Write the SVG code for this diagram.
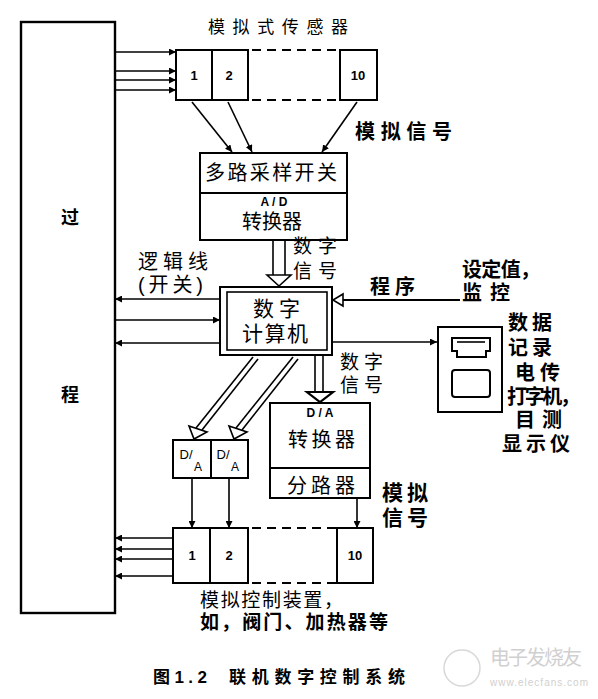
<svg xmlns="http://www.w3.org/2000/svg" width="598" height="699" viewBox="0 0 598 699">
<defs>
<style>
.box{fill:none;stroke:#000;stroke-width:2}
.ln{fill:none;stroke:#000;stroke-width:1.6}
.dash{fill:none;stroke:#000;stroke-width:2;stroke-dasharray:9,6}
.t{font-family:"Liberation Sans","Noto Sans CJK SC",sans-serif;fill:#000;dominant-baseline:central}
.b{font-weight:bold}
.n{font-family:"Liberation Sans",Arial,sans-serif;font-size:13px;font-weight:bold;fill:#000;text-anchor:middle;dominant-baseline:central}
.hol{fill:#fff;stroke:#000;stroke-width:1.6}
.wm{font-family:"Liberation Sans","Noto Sans CJK SC",sans-serif;fill:#d0d0d0}
</style>
<marker id="ah" viewBox="0 0 10 10" refX="10" refY="5" markerWidth="7" markerHeight="7" orient="auto" markerUnits="userSpaceOnUse">
<path d="M0,0 L10,5 L0,10 z" fill="#000"/>
</marker>
</defs>
<rect width="598" height="699" fill="#fff"/>

<g id="process">
<rect class="box" x="21" y="22" width="94" height="591" style="stroke-width:2.4"/>
<text class="t b" x="70" y="218" font-size="18" text-anchor="middle">过</text>
<text class="t b" x="70" y="395" font-size="18" text-anchor="middle">程</text>
</g>

<g id="sensors">
<rect class="box" x="176" y="50" width="36" height="50"/>
<rect class="box" x="212" y="50" width="36" height="50"/>
<line class="dash" x1="252" y1="50" x2="340" y2="50"/>
<line class="dash" x1="252" y1="100" x2="340" y2="100"/>
<rect class="box" x="340" y="50" width="37" height="50"/>
<text class="n" x="194" y="75">1</text>
<text class="n" x="229" y="75">2</text>
<text class="n" x="358" y="75">10</text>
<text class="t" x="208" y="27" font-size="17" textLength="140" lengthAdjust="spacing">模拟式传感器</text>
</g>

<g id="mux">
<rect class="box" x="200" y="153" width="147" height="87"/>
<line class="box" x1="200" y1="193" x2="347" y2="193"/>
<text class="t" x="205" y="173" font-size="20" textLength="132" lengthAdjust="spacing">多路采样开关</text>
<text class="t b" x="274" y="202" font-size="12" text-anchor="middle">A / D</text>
<text class="t" x="242" y="222" font-size="20" textLength="60" lengthAdjust="spacing">转换器</text>
</g>

<g id="computer">
<rect class="box" x="220" y="287" width="112" height="68"/>
<rect class="ln" x="227" y="292" width="100" height="58"/>
<text class="t" x="253" y="308" font-size="21" textLength="47" lengthAdjust="spacing">数字</text>
<text class="t" x="242" y="333" font-size="21" textLength="66" lengthAdjust="spacing">计算机</text>
</g>

<g id="recorder">
<rect class="box" x="438" y="327" width="64" height="85"/>
<path class="ln" d="M452,338 h38 v13 h-4 v6 h-29 v-6 h-5 z" style="stroke-width:2"/>
<line class="ln" x1="457" y1="342" x2="485" y2="342"/>
<rect class="ln" x="452" y="370" width="38" height="27" rx="3" style="stroke-width:2"/>
</g>

<g id="da-small">
<rect class="box" x="173" y="440" width="38" height="38"/>
<rect class="box" x="211" y="440" width="37" height="38"/>
<text class="n" x="186" y="454" style="font-weight:normal;font-size:13px">D/</text>
<text class="n" x="198" y="467" style="font-weight:normal;font-size:12px">A</text>
<text class="n" x="223" y="454" style="font-weight:normal;font-size:13px">D/</text>
<text class="n" x="235" y="467" style="font-weight:normal;font-size:12px">A</text>
</g>

<g id="da-converter">
<rect class="box" x="270" y="403" width="100" height="95"/>
<line class="box" x1="270" y1="468" x2="370" y2="468"/>
<text class="t b" x="320" y="413" font-size="12" text-anchor="middle">D / A</text>
<text class="t" x="288" y="440" font-size="20" textLength="67" lengthAdjust="spacing">转换器</text>
<text class="t" x="287" y="486" font-size="20" textLength="68" lengthAdjust="spacing">分路器</text>
</g>

<g id="actuators">
<rect class="box" x="173" y="528" width="37" height="55"/>
<rect class="box" x="210" y="528" width="38" height="55"/>
<line class="dash" x1="252" y1="528" x2="337" y2="528"/>
<line class="dash" x1="252" y1="583" x2="337" y2="583"/>
<rect class="box" x="337" y="528" width="36" height="55"/>
<text class="n" x="192" y="555">1</text>
<text class="n" x="229" y="555">2</text>
<text class="n" x="355" y="555">10</text>
<text class="t" x="200" y="600" font-size="19" textLength="143" lengthAdjust="spacing">模拟控制装置，</text>
<text class="t b" x="200" y="622" font-size="19" textLength="188" lengthAdjust="spacing">如，阀门、加热器等</text>
</g>

<g id="connectors">
<line class="ln" x1="115" y1="52" x2="176" y2="52" marker-end="url(#ah)"/>
<line class="ln" x1="115" y1="71" x2="176" y2="71" marker-end="url(#ah)"/>
<line class="ln" x1="115" y1="80" x2="176" y2="80" marker-end="url(#ah)"/>
<line class="ln" x1="115" y1="90" x2="176" y2="90" marker-end="url(#ah)"/>
<line class="ln" x1="192" y1="102" x2="232" y2="152" marker-end="url(#ah)"/>
<line class="ln" x1="228" y1="102" x2="252" y2="152" marker-end="url(#ah)"/>
<line class="ln" x1="357" y1="102" x2="322" y2="152" marker-end="url(#ah)"/>
<line class="ln" x1="273" y1="240" x2="273" y2="276"/>
<line class="ln" x1="285" y1="240" x2="285" y2="276"/>
<path class="hol" d="M267,275 L291,275 L279,286 z"/>
<line class="ln" x1="220" y1="299" x2="115" y2="299" marker-end="url(#ah)"/>
<line class="ln" x1="115" y1="320" x2="220" y2="320" marker-end="url(#ah)"/>
<line class="ln" x1="220" y1="343" x2="115" y2="343" marker-end="url(#ah)"/>
<line class="ln" x1="460" y1="300" x2="342" y2="300" style="stroke-width:2"/>
<path class="hol" d="M343,294 L343,306 L333,300 z"/>
<line class="ln" x1="332" y1="342" x2="437" y2="342" marker-end="url(#ah)"/>
<line class="ln" x1="253" y1="357" x2="196" y2="428"/>
<line class="ln" x1="258" y1="359" x2="202" y2="430"/>
<path class="hol" d="M189,426 L207,432 L194,439 z"/>
<line class="ln" x1="293" y1="357" x2="236" y2="428"/>
<line class="ln" x1="298" y1="359" x2="242" y2="430"/>
<path class="hol" d="M229,426 L247,432 L234,439 z"/>
<line class="ln" x1="315" y1="355" x2="315" y2="392"/>
<line class="ln" x1="323" y1="355" x2="323" y2="392"/>
<path class="hol" d="M307,392 L333,392 L320,402 z" style="stroke-width:2.2"/>
<line class="ln" x1="192" y1="478" x2="192" y2="528" marker-end="url(#ah)"/>
<line class="ln" x1="229" y1="478" x2="229" y2="528" marker-end="url(#ah)"/>
<line class="ln" x1="357" y1="498" x2="357" y2="528" marker-end="url(#ah)"/>
<line class="ln" x1="173" y1="538" x2="115" y2="538" marker-end="url(#ah)"/>
<line class="ln" x1="173" y1="549" x2="115" y2="549" marker-end="url(#ah)"/>
<line class="ln" x1="173" y1="559" x2="115" y2="559" marker-end="url(#ah)"/>
<line class="ln" x1="173" y1="576" x2="115" y2="576" marker-end="url(#ah)"/>
</g>

<g id="labels">
<text class="t b" x="355" y="132" font-size="20" textLength="97" lengthAdjust="spacing">模拟信号</text>
<text class="t" x="293" y="246" font-size="19" textLength="44" lengthAdjust="spacing">数字</text>
<text class="t" x="293" y="271" font-size="19" textLength="44" lengthAdjust="spacing">信号</text>
<text class="t" x="138" y="262" font-size="20" textLength="70" lengthAdjust="spacing">逻辑线</text>
<text class="t" x="138" y="285" font-size="20" textLength="65" lengthAdjust="spacing">(开关)</text>
<text class="t b" x="370" y="287" font-size="20" textLength="45" lengthAdjust="spacing">程序</text>
<text class="t b" x="462" y="270" font-size="20" textLength="78" lengthAdjust="spacing">设定值，</text>
<text class="t b" x="462" y="293" font-size="20" textLength="48" lengthAdjust="spacing">监控</text>
<text class="t b" x="508" y="323" font-size="20" textLength="44" lengthAdjust="spacing">数据</text>
<text class="t b" x="508" y="348" font-size="20" textLength="44" lengthAdjust="spacing">记录</text>
<text class="t b" x="515" y="373" font-size="20" textLength="45" lengthAdjust="spacing">电传</text>
<text class="t b" x="507" y="397" font-size="20" textLength="73" lengthAdjust="spacing">打字机，</text>
<text class="t b" x="515" y="420" font-size="20" textLength="47" lengthAdjust="spacing">目测</text>
<text class="t b" x="502" y="444" font-size="20" textLength="68" lengthAdjust="spacing">显示仪</text>
<text class="t" x="340" y="362" font-size="19" textLength="43" lengthAdjust="spacing">数字</text>
<text class="t" x="340" y="385" font-size="19" textLength="43" lengthAdjust="spacing">信号</text>
<text class="t b" x="382" y="492" font-size="21" textLength="46" lengthAdjust="spacing">模拟</text>
<text class="t b" x="382" y="517" font-size="21" textLength="46" lengthAdjust="spacing">信号</text>
</g>

<g id="caption">
<text class="t b" x="153" y="677" font-size="17" textLength="54" lengthAdjust="spacing">图1.2</text>
<text class="t b" x="229" y="677" font-size="17" textLength="176" lengthAdjust="spacing">联机数字控制系统</text>
</g>

<g id="watermark">
<circle cx="462" cy="668" r="18" fill="none" stroke="#d8d8d8" stroke-width="1.5"/>
<text class="wm" x="490" y="665" font-size="20" textLength="92" lengthAdjust="spacing">电子发烧友</text>
<text class="wm" x="490" y="686" font-size="10" textLength="98" lengthAdjust="spacing">www.elecfans.com</text>
</g>
</svg>
